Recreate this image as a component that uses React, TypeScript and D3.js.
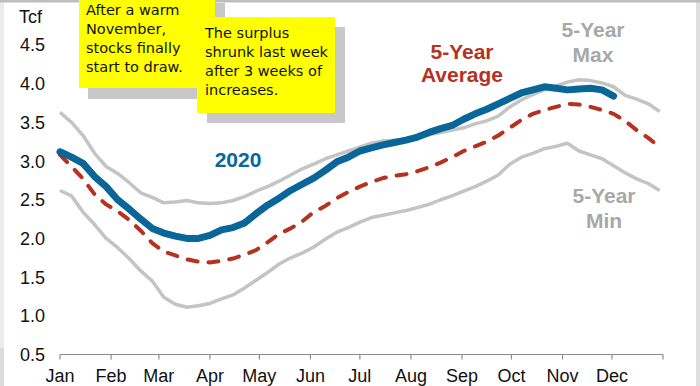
import React from "react";
import * as d3 from "d3";

const W = 700;
const H = 386;

const monthLabels = ["Jan", "Feb", "Mar", "Apr", "May", "Jun", "Jul", "Aug", "Sep", "Oct", "Nov", "Dec"];
const yTicks = [0.5, 1.0, 1.5, 2.0, 2.5, 3.0, 3.5, 4.0, 4.5];

// weekly storage values (Tcf), week 1 = first week of January
const max5 = [3.63, 3.5, 3.33, 3.1, 2.93, 2.84, 2.72, 2.59, 2.53, 2.46, 2.47, 2.49, 2.46, 2.45, 2.46, 2.49, 2.54, 2.61, 2.67, 2.74, 2.82, 2.9, 2.96, 3.03, 3.08, 3.13, 3.18, 3.23, 3.26, 3.27, 3.28, 3.3, 3.34, 3.37, 3.4, 3.43, 3.48, 3.52, 3.58, 3.7, 3.79, 3.86, 3.92, 3.97, 4.02, 4.05, 4.04, 4.01, 3.96, 3.85, 3.8, 3.74, 3.64];
const avg5 = [3.08, 2.93, 2.77, 2.57, 2.44, 2.35, 2.24, 2.1, 1.94, 1.83, 1.78, 1.73, 1.7, 1.69, 1.71, 1.74, 1.79, 1.85, 1.95, 2.06, 2.13, 2.22, 2.34, 2.42, 2.52, 2.6, 2.67, 2.73, 2.78, 2.81, 2.83, 2.87, 2.92, 2.98, 3.05, 3.13, 3.19, 3.25, 3.33, 3.43, 3.53, 3.61, 3.66, 3.7, 3.74, 3.73, 3.7, 3.66, 3.61, 3.52, 3.4, 3.3, 3.18];
const min5 = [2.62, 2.55, 2.34, 2.18, 2.0, 1.88, 1.74, 1.58, 1.45, 1.24, 1.15, 1.11, 1.13, 1.16, 1.22, 1.27, 1.36, 1.46, 1.56, 1.67, 1.75, 1.81, 1.89, 1.99, 2.08, 2.14, 2.21, 2.27, 2.3, 2.33, 2.36, 2.4, 2.44, 2.5, 2.55, 2.61, 2.67, 2.74, 2.82, 2.96, 3.05, 3.1, 3.16, 3.19, 3.23, 3.13, 3.08, 3.03, 2.94, 2.85, 2.77, 2.71, 2.62];
const y2020 = [3.12, 3.05, 2.97, 2.8, 2.67, 2.5, 2.38, 2.25, 2.13, 2.07, 2.03, 2.0, 2.0, 2.04, 2.11, 2.14, 2.2, 2.32, 2.43, 2.52, 2.62, 2.7, 2.78, 2.88, 2.99, 3.05, 3.13, 3.17, 3.21, 3.24, 3.27, 3.31, 3.37, 3.42, 3.46, 3.54, 3.61, 3.67, 3.74, 3.81, 3.88, 3.92, 3.96, 3.94, 3.92, 3.93, 3.94, 3.92, 3.84];

const note1 = ["After a warm", "November,", "stocks finally", "start to draw."];
const note2 = ["The surplus", "shrunk last week", "after 3 weeks of", "increases."];

const start = new Date(2020, 0, 1);
const end = new Date(2021, 0, 1);
const weekDate = (i: number) => d3.timeDay.offset(start, i * 7);

export default function App() {
  const x = d3.scaleTime().domain([start, end]).range([60, 663]);
  const y = d3.scaleLinear().domain([0.5, 4.5]).range([354.5, 45]);
  const line = d3
    .line<number>()
    .x((_, i) => x(weekDate(i)))
    .y((v) => y(v))
    .curve(d3.curveLinear);

  const months = monthLabels.map((m, i) => new Date(2020, i, 1));
  const font = "Arial, 'Liberation Sans', Helvetica, sans-serif";
  const noteFont = "'Comic Sans MS', 'DejaVu Sans', sans-serif";

  return (
    <svg
      width={W}
      height={H}
      style={{ position: "absolute", left: 0, top: 0, display: "block" }}
      fontFamily={font}
    >
      {/* frame */}
      <rect x={0} y={0} width={W} height={H} fill="#ffffff" />
      <rect x={0} y={0} width={4} height={348} fill="#ececec" />
      <rect x={0} y={348} width={4} height={H - 348} fill="#dcdcdc" />
      <rect x={696} y={0} width={4} height={H} fill="#dedede" />
      <rect x={0} y={0} width={W} height={2.5} fill="#bdbdbd" />

      {/* axis */}
      <line x1={x(start)} x2={x(end)} y1={354.5} y2={354.5} stroke="#8c8c8c" strokeWidth={1.2} />
      {[...months, end].map((d, i) => (
        <line key={i} x1={x(d)} x2={x(d)} y1={354.5} y2={359.5} stroke="#8c8c8c" strokeWidth={1.2} />
      ))}
      {months.map((d, i) => (
        <text key={i} x={x(d)} y={382} textAnchor="middle" fontSize={18} fill="#111">
          {monthLabels[i]}
        </text>
      ))}
      {yTicks.map((t) => (
        <text key={t} x={45} y={y(t)} dy="0.36em" textAnchor="end" fontSize={18} fill="#111">
          {t.toFixed(1)}
        </text>
      ))}
      <text x={19} y={23} fontSize={18} fill="#111">Tcf</text>

      {/* series */}
      <path d={line(max5) || ""} fill="none" stroke="#c4c4c4" strokeWidth={3.5} strokeLinejoin="round" />
      <path d={line(min5) || ""} fill="none" stroke="#c4c4c4" strokeWidth={3.5} strokeLinejoin="round" />
      <path
        d={line(avg5) || ""}
        fill="none"
        stroke="#b5321f"
        strokeWidth={4}
        strokeDasharray="10 11"
        strokeLinecap="round"
        strokeLinejoin="round"
      />
      <path
        d={line(y2020) || ""}
        fill="none"
        stroke="#0a6699"
        strokeWidth={7}
        strokeLinecap="round"
        strokeLinejoin="round"
      />

      {/* series labels */}
      <text x={238} y={167} textAnchor="middle" fontSize={21} fontWeight="bold" fill="#0a6699">2020</text>
      <text textAnchor="middle" fontSize={21} fontWeight="bold" fill="#b5321f">
        <tspan x={462} y={59}>5-Year</tspan>
        <tspan x={462} y={82}>Average</tspan>
      </text>
      <text textAnchor="middle" fontSize={21} fontWeight="bold" fill="#a8a8a8">
        <tspan x={593} y={37}>5-Year</tspan>
        <tspan x={593} y={62}>Max</tspan>
      </text>
      <text textAnchor="middle" fontSize={21} fontWeight="bold" fill="#a8a8a8">
        <tspan x={604} y={203}>5-Year</tspan>
        <tspan x={604} y={228}>Min</tspan>
      </text>

      {/* callouts */}
      <rect x={88} y={3} width={137} height={96} fill="#c8c8c8" />
      <rect x={79} y={-10} width={136} height={98} fill="#ffff00" />
      <text fontFamily={noteFont} fontSize={14.5} fill="#111">
        {note1.map((s, i) => (
          <tspan key={i} x={86} y={15 + i * 19}>{s}</tspan>
        ))}
      </text>
      <rect x={207} y={27} width={138} height={96} fill="#c8c8c8" />
      <rect x={197} y={17} width={138} height={96} fill="#ffff00" />
      <text fontFamily={noteFont} fontSize={14.5} fill="#111">
        {note2.map((s, i) => (
          <tspan key={i} x={205} y={38 + i * 19}>{s}</tspan>
        ))}
      </text>
    </svg>
  );
}
